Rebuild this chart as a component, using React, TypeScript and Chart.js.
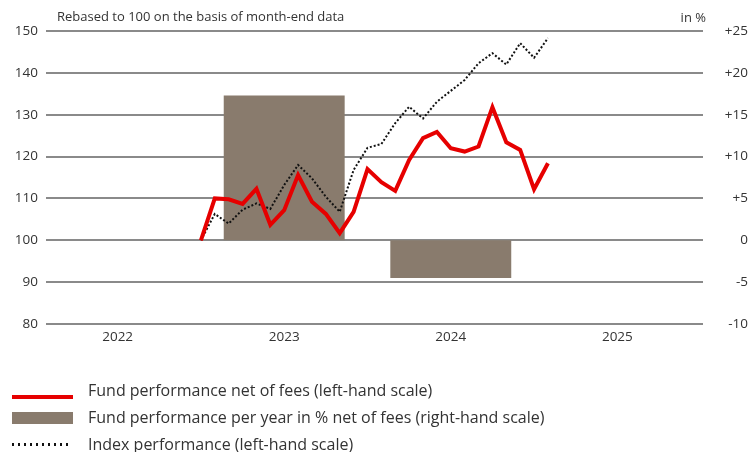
import { useEffect, useRef } from 'react';
import { Chart, registerables } from 'chart.js';

Chart.register(...registerables);

// ---------- data ----------
const YEAR_LABELS = ['2022', '2023', '2024', '2025'];

// month-end observations
const MONTHS = [
  '2022-12', '2023-01', '2023-02', '2023-03', '2023-04', '2023-05', '2023-06', '2023-07',
  '2023-08', '2023-09', '2023-10', '2023-11', '2023-12', '2024-01', '2024-02', '2024-03',
  '2024-04', '2024-05', '2024-06', '2024-07', '2024-08', '2024-09', '2024-10', '2024-11',
  '2024-12', '2025-01',
];

const FUND_VALUES = [
  100, 110.0, 109.8, 108.7, 112.3, 103.7, 107.2, 115.6, 109.2, 106.3, 101.7, 106.8, 117.0,
  113.9, 111.8, 119.2, 124.4, 125.9, 122.0, 121.2, 122.4, 131.8, 123.4, 121.6, 112.2, 118.4,
];

const INDEX_VALUES = [
  100, 106.3, 104.0, 107.3, 108.8, 107.5, 113.2, 118.0, 114.8, 110.4, 106.8, 116.8, 122.1,
  123.0, 128.0, 131.9, 129.1, 133.1, 135.7, 138.3, 142.3, 144.7, 142.0, 147.1, 143.6, 148.3,
];

const ANNUAL_YEARS = ['2023', '2024'];
const ANNUAL_RETURNS = [17.3, -4.5];

const LEFT_NOTE = 'Rebased to 100 on the basis of month-end data';
const RIGHT_NOTE = 'in %';

const SERIES_LABELS = [
  'Fund performance net of fees (left-hand scale)',
  'Fund performance per year in % net of fees (right-hand scale)',
  'Index performance (left-hand scale)',
];

// ---------- styles ----------
const FONT = '"Open Sans", "Noto Sans", sans-serif';
const TEXT = '#333333';
const RED = '#e60000';
const BROWN = '#897b6d';
const GRID = '#8a8a8a';
const DOT = '#111111';

const monthEndPos = (label: string) => {
  const [y, m] = label.split('-').map(Number);
  return (y - 2022) * 12 + m;
};
const yearMidPos = (year: string) => (Number(year) - 2022) * 12 + 6;

function makeSymbol(draw: (g: CanvasRenderingContext2D) => void) {
  const c = document.createElement('canvas');
  c.width = 68;
  c.height = 26;
  const g = c.getContext('2d')!;
  draw(g);
  return c;
}

const notesPlugin = {
  id: 'axisNotes',
  afterDraw(chart: any) {
    const { ctx, chartArea } = chart;
    ctx.save();
    ctx.font = `13px ${FONT}`;
    ctx.fillStyle = TEXT;
    ctx.textBaseline = 'middle';
    ctx.textAlign = 'left';
    ctx.fillText(LEFT_NOTE, chartArea.left + 11, 17);
    ctx.textAlign = 'right';
    ctx.fillText(RIGHT_NOTE, chartArea.right + 3, 18);
    ctx.restore();
  },
};

export default function App() {
  const ref = useRef<HTMLCanvasElement>(null);

  useEffect(() => {
    if (!ref.current) return;

    const symbols = [
      makeSymbol((g) => {
        g.fillStyle = RED;
        g.fillRect(0, 17, 61, 4);
      }),
      makeSymbol((g) => {
        g.fillStyle = BROWN;
        g.fillRect(0, 7, 61, 12);
      }),
      makeSymbol((g) => {
        g.fillStyle = DOT;
        for (let i = 0; i < 10; i++) g.fillRect(6 * i, 11, 2, 3);
      }),
    ];

    const tickFont = { family: FONT, size: 13.5 };

    const chart = new Chart(ref.current, {
      type: 'line',
      data: {
        datasets: [
          {
            type: 'line',
            label: SERIES_LABELS[0],
            data: MONTHS.map((m, i) => ({ x: monthEndPos(m), y: FUND_VALUES[i] })),
            borderColor: RED,
            borderWidth: 4,
            borderJoinStyle: 'miter',
            pointRadius: 0,
            tension: 0,
            yAxisID: 'y',
            order: 1,
          },
          {
            type: 'bar',
            label: SERIES_LABELS[1],
            data: ANNUAL_YEARS.map((y, i) => ({ x: yearMidPos(y), y: ANNUAL_RETURNS[i] })),
            backgroundColor: BROWN,
            borderWidth: 0,
            categoryPercentage: 1,
            barPercentage: 0.726,
            yAxisID: 'y1',
            order: 3,
          },
          {
            type: 'line',
            label: SERIES_LABELS[2],
            data: MONTHS.map((m, i) => ({ x: monthEndPos(m), y: INDEX_VALUES[i] })),
            borderColor: DOT,
            borderWidth: 2,
            borderDash: [2, 2],
            pointRadius: 0,
            tension: 0,
            yAxisID: 'y',
            order: 2,
          },
        ] as any,
      },
      options: {
        responsive: false,
        animation: false,
        layout: { padding: { left: 1, right: 0, top: 31, bottom: 0 } },
        scales: {
          x: {
            type: 'linear',
            min: 0.84,
            max: 48.17,
            offset: false,
            grid: { display: false, offset: false, drawTicks: false },
            border: { display: false },
            afterBuildTicks: (s: any) => {
              s.ticks = YEAR_LABELS.map((y) => ({ value: yearMidPos(y) }));
            },
            afterFit: (s: any) => {
              s.height = 48;
            },
            ticks: {
              autoSkip: false,
              maxRotation: 0,
              padding: 5,
              color: TEXT,
              font: tickFont,
              callback: (v: any) => YEAR_LABELS[Math.round((Number(v) - 6) / 12)] ?? '',
            },
          },
          y: {
            position: 'left',
            min: 80,
            max: 150,
            grid: { color: GRID, lineWidth: 2, drawTicks: false },
            border: { display: false },
            afterFit: (s: any) => {
              s.width = 45;
            },
            ticks: { stepSize: 10, padding: 8, color: TEXT, font: tickFont },
          },
          y1: {
            position: 'right',
            min: -10,
            max: 25,
            grid: { display: false, drawTicks: false },
            border: { display: false },
            afterFit: (s: any) => {
              s.width = 45;
            },
            ticks: {
              stepSize: 5,
              padding: 10.5,
              crossAlign: 'far',
              color: TEXT,
              font: tickFont,
              callback: (v: any) => (Number(v) > 0 ? '+' + v : String(v)),
            },
          },
        } as any,
        plugins: {
          legend: {
            position: 'bottom',
            align: 'start',
            maxHeight: 80,
            labels: {
              usePointStyle: true,
              pointStyleWidth: 68,
              boxHeight: 16,
              padding: 11,
              color: TEXT,
              font: { family: FONT, size: 16 },
              generateLabels: (c: any) =>
                c.data.datasets.map((ds: any, i: number) => ({
                  text: ds.label,
                  pointStyle: symbols[i],
                  datasetIndex: i,
                  hidden: false,
                  fillStyle: 'rgba(0,0,0,0)',
                  strokeStyle: 'rgba(0,0,0,0)',
                  lineWidth: 0,
                  fontColor: TEXT,
                })),
            },
          } as any,
          tooltip: { enabled: false },
        },
      },
      plugins: [notesPlugin],
    });

    return () => chart.destroy();
  }, []);

  return (
    <div style={{ position: 'absolute', left: 0, top: 0, width: 748, height: 452 }}>
      <canvas ref={ref} width={748} height={452} style={{ display: 'block' }} />
    </div>
  );
}
